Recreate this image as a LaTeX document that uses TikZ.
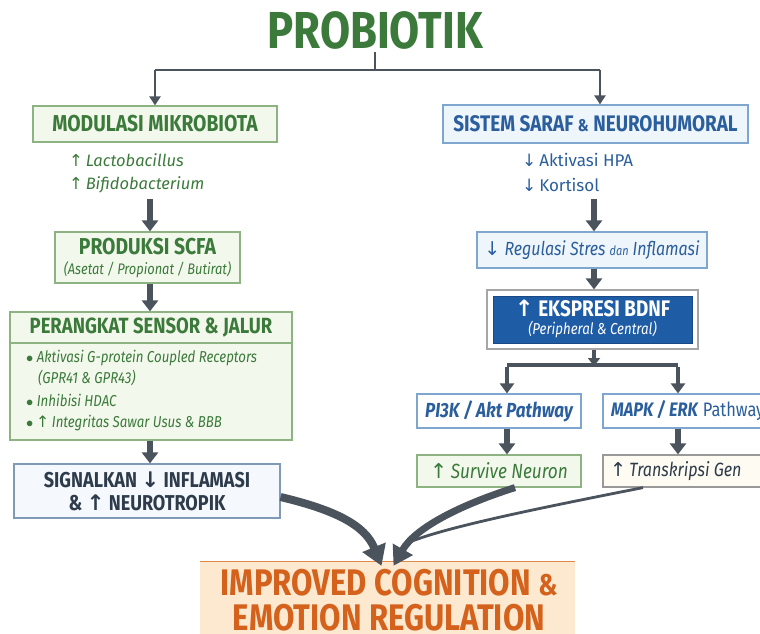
\documentclass[tikz,border=0pt]{standalone}
\usepackage{fontspec}
\setmainfont{Fira Sans}
\newfontfamily\cond[FakeStretch=0.84]{Fira Sans}
\newfontfamily\arrf{DejaVu Sans}
\usetikzlibrary{arrows.meta}
\definecolor{tgreen}{HTML}{3B7A3B}
\definecolor{bgreen}{HTML}{8DB383}
\definecolor{fgreen}{HTML}{F3F8EC}
\definecolor{tblue}{HTML}{2A5E9C}
\definecolor{bblue}{HTML}{7FA6CF}
\definecolor{fblue}{HTML}{EEF5FB}
\definecolor{dblue}{HTML}{1F5CA6}
\definecolor{agray}{HTML}{4B535D}
\definecolor{tgray}{HTML}{2E3B4B}
\definecolor{borange}{HTML}{E08A4A}
\definecolor{forange}{HTML}{FDE8D0}
\definecolor{torange}{HTML}{D4621C}
\definecolor{fcream}{HTML}{FDFBF2}
\newcommand{\up}{{\arrf\char"2191}}
\newcommand{\dn}{{\arrf\char"2193}}
\newcommand{\fs}[1]{\fontsize{#1}{#1}\selectfont}
\tikzset{
  gbox/.style={draw=bgreen, fill=fgreen, line width=1.2pt, inner sep=0pt, align=center},
  bbox/.style={draw=bblue, fill=fblue, line width=1.2pt, inner sep=0pt, align=center},
  blockarrow/.style={draw=agray, line width=5.5pt, -{Triangle[width=16pt,length=11pt]}},
  thinarrow/.style={draw=agray, line width=2.2pt, -{Triangle[width=11pt,length=9pt]}},
  txt/.style={inner sep=0pt, anchor=west},
}
\begin{document}
\begin{tikzpicture}[x=1pt,y=-1pt]
\useasboundingbox (0,0) rectangle (760,634);
% title
\node[inner sep=0pt, text=tgreen, font=\cond\bfseries\fs{52}] (title) at (375,30) {PROBIOTIK};
\coordinate (tj) at (375,70);
\coordinate (tl) at (155,70);
\coordinate (tr) at (600,70);
% boxes left
\node[gbox, minimum width=244pt, minimum height=36pt, text=tgreen, font=\cond\bfseries\fs{23}] (mod) at (155,124) {MODULASI MIKROBIOTA};
\node[txt, text=tgreen, font=\itshape\fs{16.5}] (lacto) at (69,160) {\up\,Lactobacillus};
\node[txt, text=tgreen, font=\itshape\fs{16.5}] (bifido) at (69,185) {\up\,Bifidobacterium};
\node[gbox, minimum width=185pt, minimum height=51pt] (scfa) at (147.5,257.5) {};
\node[inner sep=0pt, text=tgreen, font=\cond\bfseries\fs{23}] (scfat) at (147.5,247) {PRODUKSI SCFA};
\node[inner sep=0pt, text=tgreen, font=\cond\itshape\fs{15.3}] (scfas) at (147.5,270) {(Asetat / Propionat / Butirat)};
\node[gbox, minimum width=282pt, minimum height=128pt] (sensor) at (151,376) {};
\draw[bgreen, line width=1.2pt] (sensor.west |- 0,343) -- (sensor.east |- 0,343);
\node[inner sep=0pt, text=tgreen, font=\cond\bfseries\fs{22}] (sensort) at (151,328) {PERANGKAT SENSOR \& JALUR};
\node[txt, text=tgreen, font=\cond\itshape\fs{15.8}] (b1) at (26,358) {$\bullet$\ Aktivasi G-protein Coupled Receptors};
\node[txt, text=tgreen, font=\cond\itshape\fs{15.8}] (b1b) at (38,378) {(GPR41 \& GPR43)};
\node[txt, text=tgreen, font=\cond\itshape\fs{15.8}] (b2) at (26,400) {$\bullet$\ Inhibisi HDAC};
\node[txt, text=tgreen, font=\cond\itshape\fs{15.8}] (b3) at (26,423) {$\bullet$\,\up\,Integritas Sawar Usus \& BBB};
\node[draw=bblue!70!gray, fill=fblue!60, line width=1.2pt, minimum width=266pt, minimum height=54pt, align=center, inner sep=0pt, text=tgray, font=\cond\bfseries\fontsize{21.5}{23}\selectfont] (sig) at (147,491) {SIGNALKAN \dn\ INFLAMASI\\\& \up\ NEUROTROPIK};
% boxes right
\node[bbox, minimum width=305pt, minimum height=38pt, text=tblue, font=\cond\bfseries\fs{22.5}] (sis) at (595.5,124) {SISTEM SARAF {\fs{17}\&} NEUROHUMORAL};
\node[txt, text=tblue, font=\fs{17}] (hpa) at (522,160) {\dn\,Aktivasi HPA};
\node[txt, text=tblue, font=\fs{17}] (kort) at (522,185) {\dn\,Kortisol};
\node[bbox, minimum width=230pt, minimum height=36pt, text=tblue, font=\cond\itshape\fs{19}] (reg) at (592,250) {\dn\ Regulasi Stres {\fs{13}dan} Inflamasi};
\node[draw=gray!70, fill=white, line width=1.2pt, minimum width=211pt, minimum height=59pt, inner sep=0pt] (bdnfo) at (592.5,319.5) {};
\node[fill=dblue, draw=dblue!80!black, minimum width=199pt, minimum height=47pt, inner sep=0pt] (bdnf) at (592.5,319.5) {};
\node[inner sep=0pt, text=white, font=\cond\bfseries\fs{22.5}] (bdnft) at (592.5,308) {\up\ EKSPRESI BDNF};
\node[inner sep=0pt, text=white, font=\cond\itshape\fs{15.8}] (bdnfs) at (592.5,330) {(Peripheral \& Central)};
\coordinate (bj) at (594,365);
\coordinate (bl) at (507,365);
\coordinate (br) at (678,365);
\node[bbox, fill=white, minimum width=164pt, minimum height=34pt, text=tblue, font=\cond\bfseries\itshape\fs{20.4}] (pi3k) at (499,411) {PI3K / Akt Pathway};
\node[bbox, fill=white, minimum width=160pt, minimum height=34pt, text=tblue] (mapk) at (683,411) {};
\node[txt, text=tblue, font=\cond\fs{19.5}] (mapkt) at (611,411) {\textbf{\itshape MAPK / ERK} Pathway};
\node[gbox, minimum width=164pt, minimum height=32pt, text=tgreen, font=\cond\itshape\fs{20.5}] (surv) at (499,471) {\up\,Survive Neuron};
\node[draw=gray!80, fill=fcream, line width=1.2pt, minimum width=160pt, minimum height=32pt, inner sep=0pt] (trans) at (683,471) {};
\node[txt, text=tgray, font=\cond\itshape\fs{19.2}] (transt) at (610,471) {\up\,Transkripsi Gen};
% final
\node[fill=forange, minimum width=375pt, minimum height=76pt, inner sep=0pt] (final) at (387.5,600) {};
\draw[borange, line width=1.3pt] (final.north west) -- (final.north east);
\node[inner sep=0pt, text=torange, font=\cond\bfseries\fs{37}] (final1) at (389,583) {IMPROVED COGNITION {\fs{30}\&}};
\node[inner sep=0pt, text=torange, font=\cond\bfseries\fs{37}] (final2) at (389,618) {EMOTION REGULATION};
% connectors
\draw[agray, line width=2.2pt] (title.south |- 0,52) -- (tj);
\draw[agray, line width=2.2pt] (tl) -- (tr);
\draw[thinarrow] (tl) -- (mod.north -| tl);
\draw[thinarrow] (tr) -- (sis.north -| tr);
\draw[blockarrow] (150,199) -- (scfa.north -| 150,0);
\draw[blockarrow] (scfa.south -| 150,0) -- (sensor.north -| 150,0);
\draw[blockarrow] (sensor.south -| 150,0) -- (sig.north -| 150,0);
\draw[blockarrow] (594,199) -- (reg.north -| 594,0);
\draw[blockarrow] (reg.south -| 594,0) -- (bdnfo.north -| 594,0);
\draw[agray, line width=4pt, -{Triangle[width=12pt,length=8pt]}] (bdnfo.south -| 594,0) -- ([yshift=-1pt]bj);
\draw[agray, line width=3.5pt] (bl) -- (br);
\draw[agray, line width=3.5pt, -{Triangle[width=14pt,length=10pt]}] ([yshift=-1.5pt]bl) -- (pi3k.north -| bl);
\draw[agray, line width=3.5pt, -{Triangle[width=14pt,length=10pt]}] ([yshift=-1.5pt]br) -- (mapk.north -| br);
\draw[blockarrow] (pi3k.south -| 507,0) -- (surv.north -| 507,0);
\draw[blockarrow] (mapk.south -| 678,0) -- (trans.north -| 678,0);
\draw[agray, line width=8pt, -{Triangle[width=24pt,length=20pt]}] ([yshift=-6pt]sig.east) .. controls (335,510) and (365,525) .. ([xshift=-6pt,yshift=-4pt]final.north);
\draw[agray, line width=2.8pt] ([xshift=-40pt]trans.south) .. controls (540,508) and (440,528) .. (405,544);
\draw[agray, line width=7pt, -{Triangle[width=22pt,length=19pt]}] ([xshift=16pt]surv.south) .. controls (460,505) and (415,528) .. ([xshift=6pt,yshift=-4pt]final.north);
\end{tikzpicture}
\end{document}
